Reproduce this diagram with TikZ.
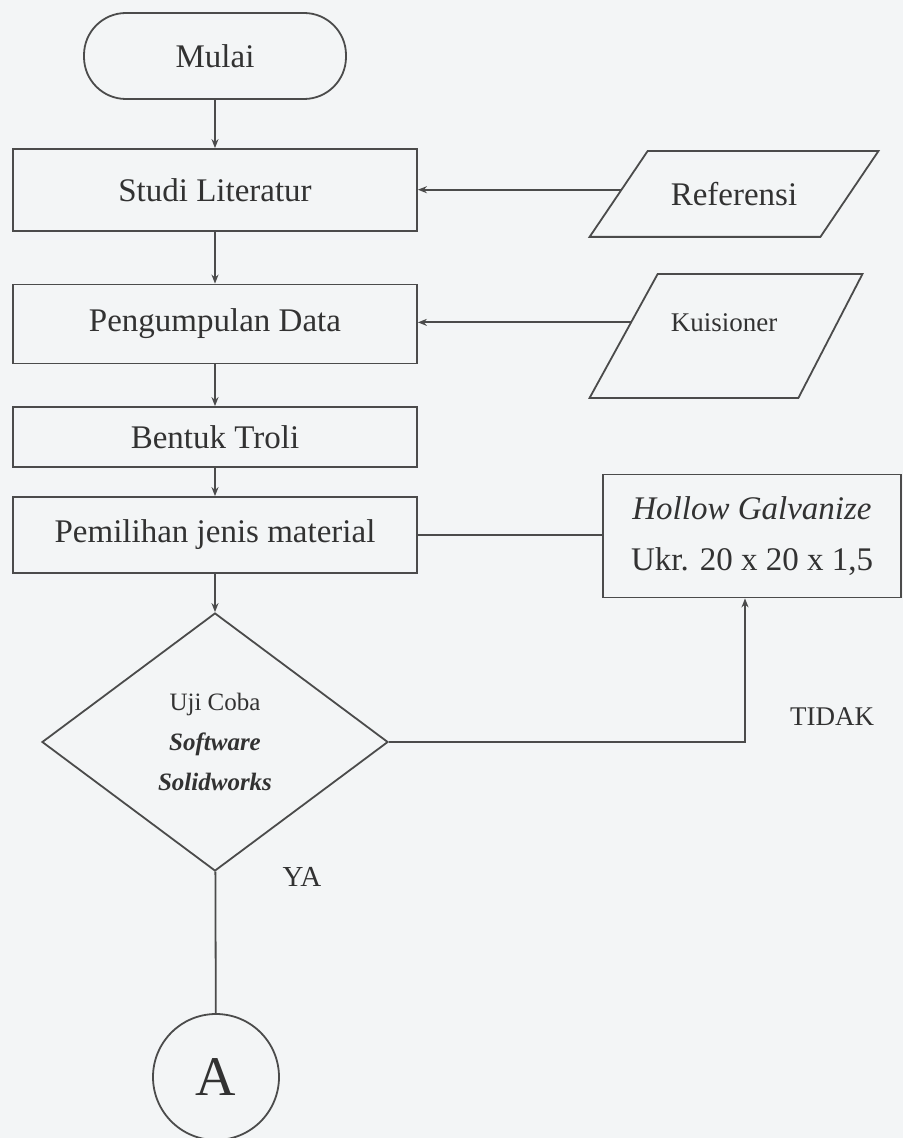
\documentclass[tikz,border=0pt]{standalone}
\usepackage{fontspec}
\setmainfont{Liberation Serif}
\usetikzlibrary{arrows.meta, shapes.geometric, calc}

\definecolor{linegray}{RGB}{75,75,75}
\definecolor{txtgray}{RGB}{50,50,50}
\definecolor{papergray}{RGB}{243,245,246}

\newcommand{\fsz}[1]{\fontsize{#1}{1.2\dimexpr#1\relax}\selectfont}

\begin{document}
\begin{tikzpicture}[
    x=0.5pt, y=-0.5pt,
    >={Stealth[length=4.5pt, width=3.5pt]},
    every node/.style={font=\fsz{16.5pt}, text=txtgray},
    garis/.style={draw=linegray, line width=0.9pt},
    proses/.style={garis, rectangle, minimum width=202pt, inner sep=0pt},
    terminal/.style={garis, rectangle, rounded corners=21pt,
                     minimum width=131pt, minimum height=43pt},
    datain/.style={rectangle, inner sep=0pt},
    cabang/.style={garis, diamond, inner sep=0pt, minimum width=173pt,
                   minimum height=129pt, align=center, font=\fsz{12.5pt}},
    konektor/.style={garis, circle, minimum size=63pt, inner sep=0pt,
                     font=\fsz{28pt}},
    every edge/.style={garis}
]

% Page and background
\useasboundingbox (0,0) rectangle (903,1138);
\fill[papergray] (0,0) rectangle (903,1138);

% Main column
\node[terminal] (mulai) at (215,56) {Mulai};
\node[proses, minimum height=41pt] (studi) at (215,190) {Studi Literatur};
\node[proses, minimum height=39.5pt] (kumpul) at (215,324) {Pengumpulan Data};
\node[proses, minimum height=30pt] (bentuk) at (215,437) {Bentuk Troli};
\node[proses, minimum height=38pt] (pilih) at (215,535) {Pemilihan jenis material};
\node[cabang] (uji) at (215,742)
    {Uji Coba\\[5pt]\textbf{\textit{Software}}\\[5pt]\textbf{\textit{Solidworks}}};
\node[konektor] (konA) at (216,1077) {A};

% Inputs on the right (parallelograms)
\node[datain, minimum width=144pt, minimum height=42.5pt] (ref) at (734,194) {Referensi};
\draw[garis] (ref.south west) -- ([xshift=29pt]ref.north west)
    -- (ref.north east) -- ([xshift=-29pt]ref.south east) -- cycle;
\node[datain, minimum width=136pt, minimum height=61.5pt] (kuis) at (726,336) {};
\draw[garis] (kuis.south west) -- ([xshift=34pt]kuis.north west)
    -- (kuis.north east) -- ([xshift=-32pt]kuis.south east) -- cycle;
\node[font=\fsz{13.5pt}] (kuistxt) at (724,323) {Kuisioner};

% Material box
\node[proses, minimum width=149pt, minimum height=61.5pt, align=center]
    (hollow) at (752,536) {\textit{Hollow Galvanize}\\[6pt]Ukr. 20 x 20 x 1,5};

% Labels
\node[font=\fsz{13.5pt}] (tidak) at (832,717) {TIDAK};
\node[font=\fsz{14.5pt}] (ya) at (302,877) {YA};

% Connectors
\draw (mulai) edge[->] (studi)
      (studi) edge[->] (kumpul)
      (kumpul) edge[->] (bentuk)
      (bentuk) edge[->] (pilih)
      (pilih) edge[->] (uji)
      (uji) edge (konA)
      (pilih.east) edge (pilih.east -| hollow.west);

\coordinate (refin) at ($(ref.south west)!0.55!([xshift=29pt]ref.north west)$);
\coordinate (kuisin) at ($(kuis.south west)!0.61!([xshift=34pt]kuis.north west)$);
\draw[garis, ->] (refin) -- (refin -| studi.east);
\draw[garis, ->] (kuisin) -- (kuisin -| kumpul.east);
\draw[garis, ->] (uji.east) -| ([xshift=-3.5pt]hollow.south);

\end{tikzpicture}
\end{document}
